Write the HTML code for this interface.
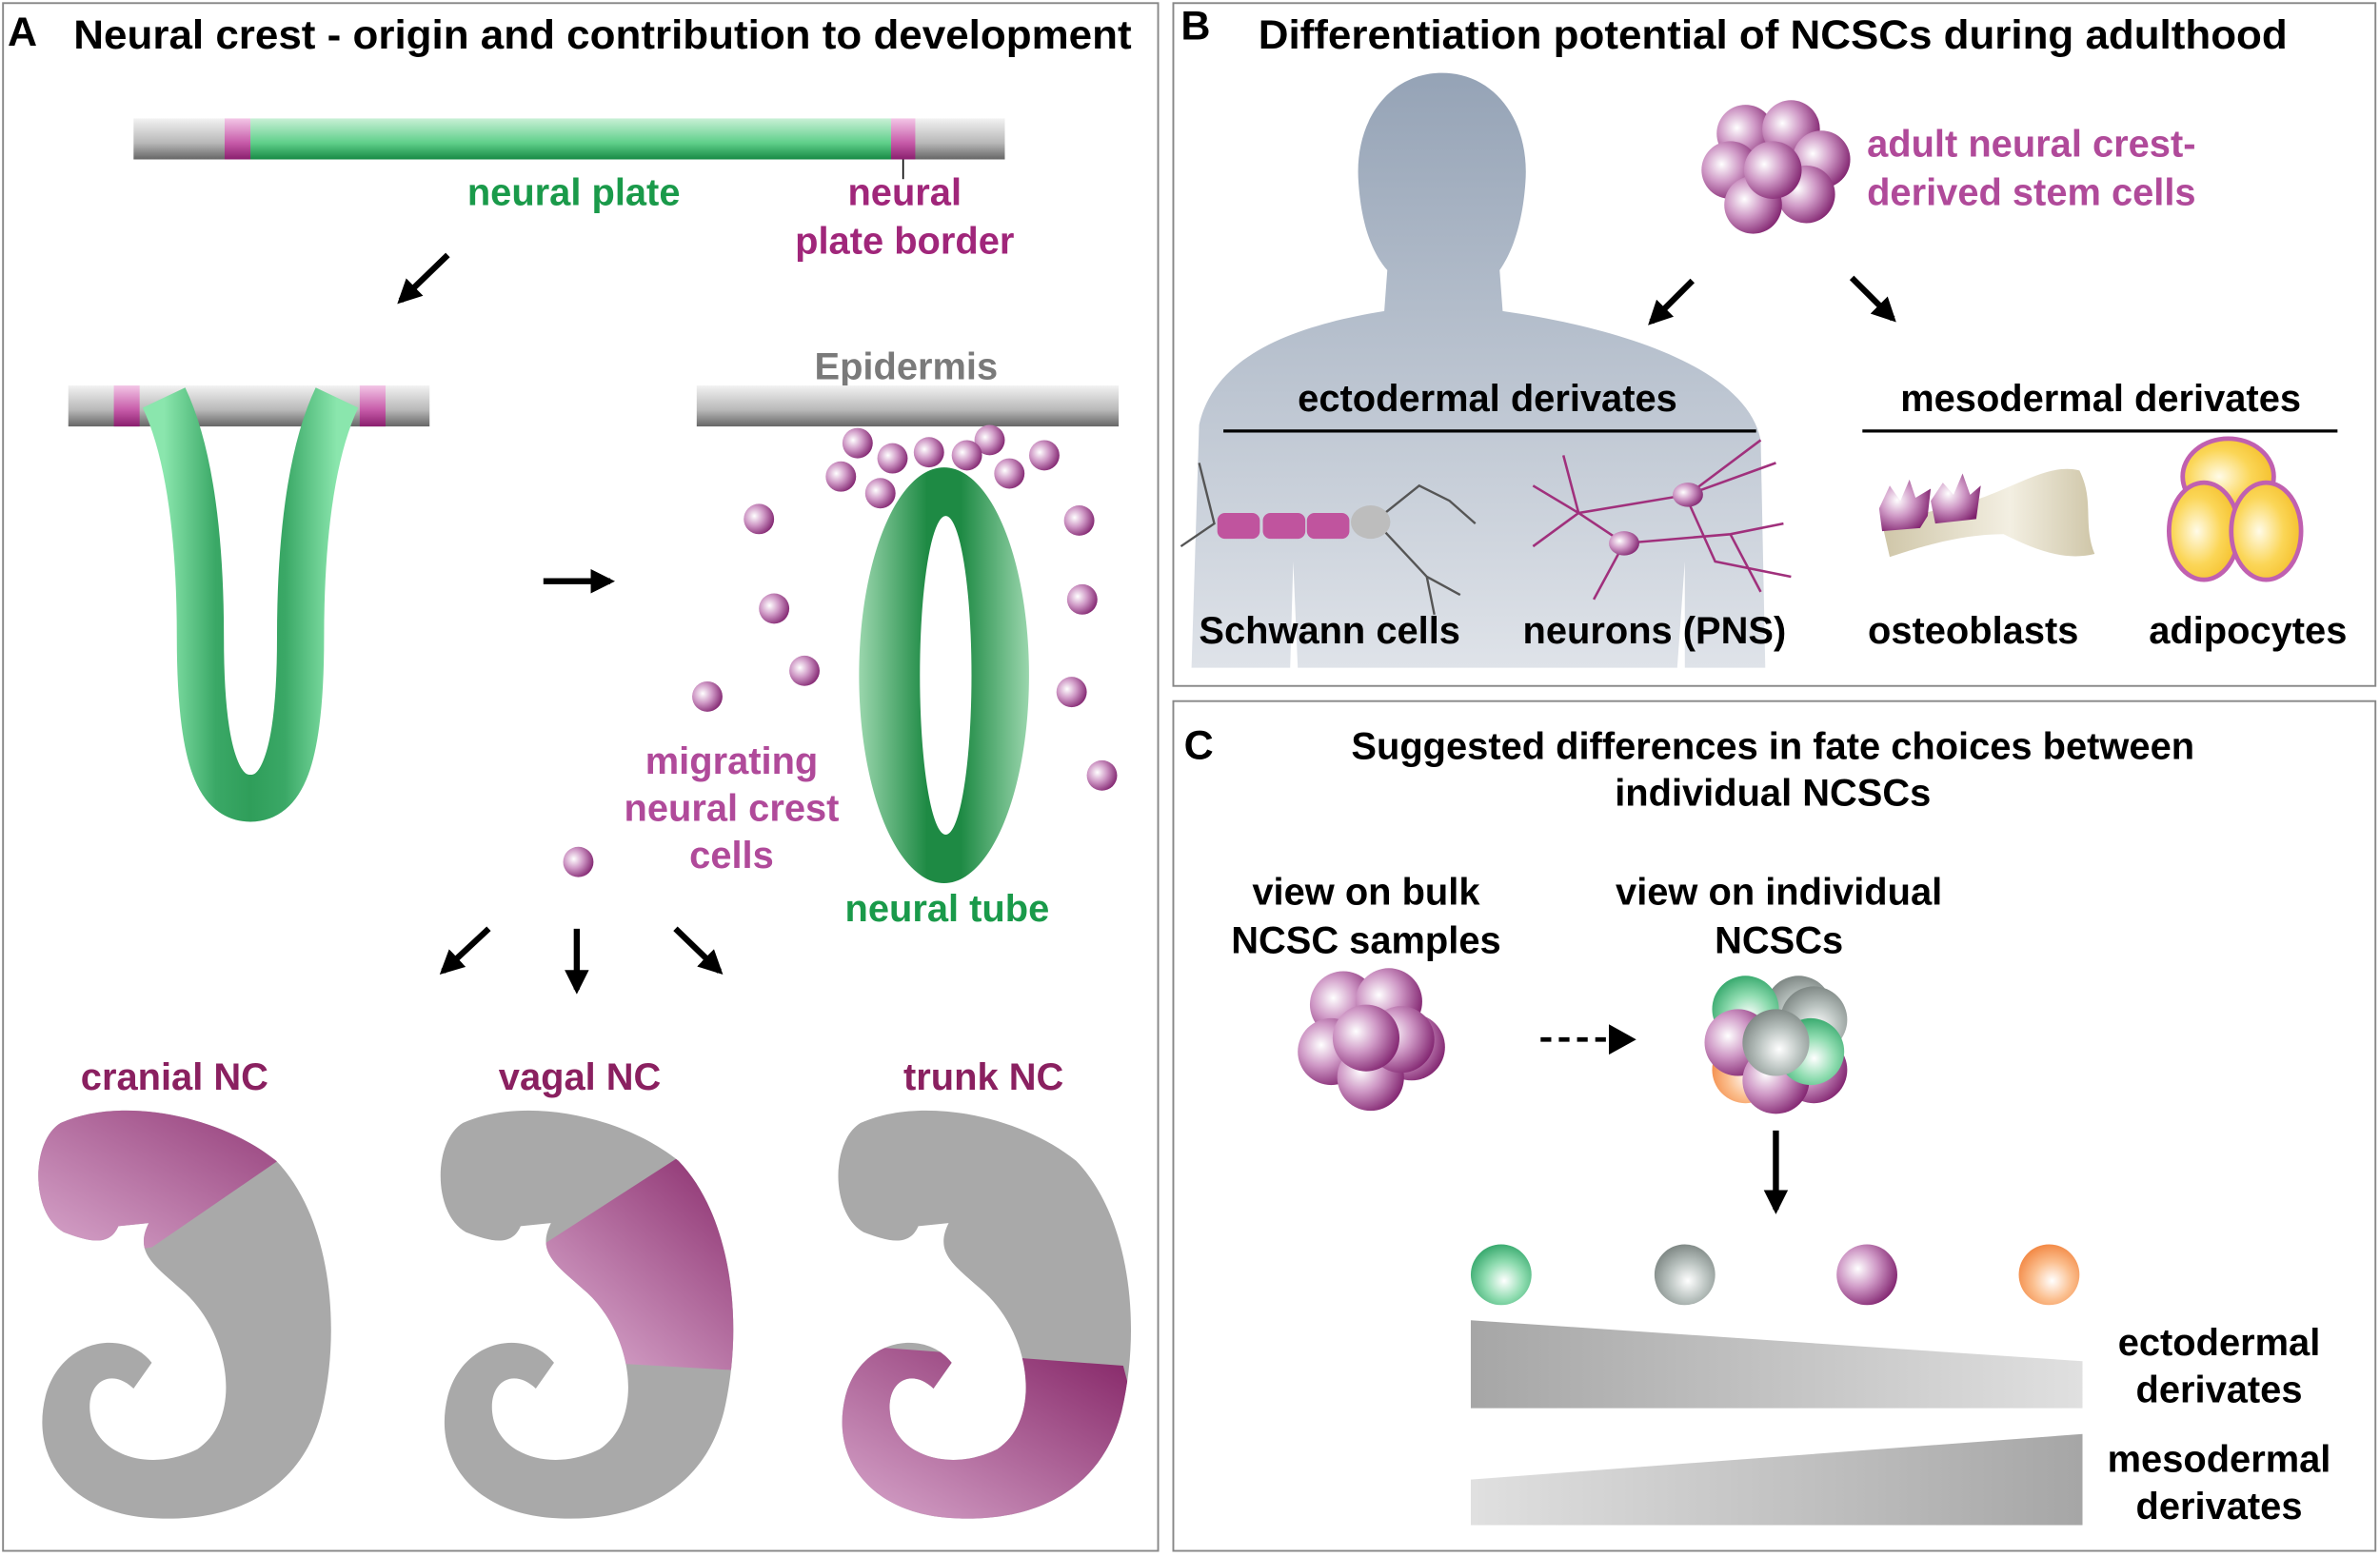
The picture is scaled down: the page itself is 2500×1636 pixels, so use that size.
<!DOCTYPE html>
<html><head><meta charset="utf-8"><style>html,body{margin:0;padding:0;background:#fff}svg{display:block}</style></head><body>
<svg width="2500" height="1636" viewBox="0 0 1568 1026" xmlns="http://www.w3.org/2000/svg" font-family="'Liberation Sans Narrow','Liberation Sans',sans-serif" font-weight="bold">
<defs>
<linearGradient id="bar" x1="0" y1="0" x2="0" y2="1"><stop offset="0" stop-color="#f2f2f2"/><stop offset="0.6" stop-color="#b8b8b8"/><stop offset="1" stop-color="#666"/></linearGradient>
<linearGradient id="gbar" x1="0" y1="0" x2="0" y2="1"><stop offset="0" stop-color="#c8f0d6"/><stop offset="0.6" stop-color="#5fcf8a"/><stop offset="1" stop-color="#178a45"/></linearGradient>
<linearGradient id="pbar" x1="0" y1="0" x2="0" y2="1"><stop offset="0" stop-color="#f3c6e6"/><stop offset="0.6" stop-color="#c65aa8"/><stop offset="1" stop-color="#8a1f6e"/></linearGradient>
<linearGradient id="gU" x1="0" y1="0" x2="1" y2="0"><stop offset="0" stop-color="#8ae6ad"/><stop offset="0.3" stop-color="#3aa866"/><stop offset="0.5" stop-color="#2f9e5a"/><stop offset="0.7" stop-color="#3aa866"/><stop offset="1" stop-color="#8ae6ad"/></linearGradient>
<linearGradient id="gT" x1="0" y1="0" x2="1" y2="0"><stop offset="0" stop-color="#9ad6ad"/><stop offset="0.4" stop-color="#1e8a44"/><stop offset="0.6" stop-color="#1e8a44"/><stop offset="1" stop-color="#9ad6ad"/></linearGradient>
<radialGradient id="sp" cx="0.35" cy="0.4" r="0.7"><stop offset="0" stop-color="#fff"/><stop offset="0.45" stop-color="#cf99c6"/><stop offset="1" stop-color="#7e1f6c"/></radialGradient>
<radialGradient id="sg" cx="0.55" cy="0.6" r="0.7"><stop offset="0" stop-color="#fff"/><stop offset="0.45" stop-color="#8fdcb0"/><stop offset="1" stop-color="#1e9a5a"/></radialGradient>
<radialGradient id="sy" cx="0.55" cy="0.6" r="0.7"><stop offset="0" stop-color="#fff"/><stop offset="0.45" stop-color="#b9c2bf"/><stop offset="1" stop-color="#6d7673"/></radialGradient>
<radialGradient id="so" cx="0.55" cy="0.6" r="0.7"><stop offset="0" stop-color="#fff"/><stop offset="0.45" stop-color="#fbbf8f"/><stop offset="1" stop-color="#f0782e"/></radialGradient>
<radialGradient id="yel" cx="0.4" cy="0.5" r="0.7"><stop offset="0" stop-color="#fffbe8"/><stop offset="0.5" stop-color="#fbd657"/><stop offset="1" stop-color="#f2b81e"/></radialGradient>
<linearGradient id="body" x1="0" y1="0" x2="0" y2="1"><stop offset="0" stop-color="#95a3b6"/><stop offset="1" stop-color="#dfe3e9"/></linearGradient>
<linearGradient id="bone" x1="0" y1="0" x2="1" y2="0"><stop offset="0" stop-color="#cfc6a8"/><stop offset="0.6" stop-color="#f3efe2"/><stop offset="1" stop-color="#cfc6a8"/></linearGradient>
<linearGradient id="pc" x1="1" y1="0" x2="0" y2="1"><stop offset="0" stop-color="#7e1a5e"/><stop offset="1" stop-color="#e0b4d6"/></linearGradient>
<linearGradient id="w1" x1="0" y1="0" x2="1" y2="0"><stop offset="0" stop-color="#a6a6a6"/><stop offset="1" stop-color="#e0e0e0"/></linearGradient>
<linearGradient id="w2" x1="0" y1="0" x2="1" y2="0"><stop offset="0" stop-color="#e0e0e0"/><stop offset="1" stop-color="#a6a6a6"/></linearGradient>
<path id="emb" d="M40 740 C80 722 145 735 182 765 C216 800 226 870 212 930 C198 985 150 1005 95 1000 C45 995 20 960 30 920 C40 882 82 875 100 898 L88 915 C72 900 55 912 60 935 C66 960 100 970 130 955 C160 935 152 880 122 852 C102 834 88 826 98 806 L78 808 C72 822 58 818 42 812 C20 800 20 752 40 740 Z" fill="#a9a9a9"/>
<clipPath id="c1"><use href="#emb"/></clipPath>
<clipPath id="c2"><use href="#emb" x="265"/></clipPath>
<clipPath id="c3"><use href="#emb" x="527"/></clipPath>
<marker id="ah" viewBox="0 0 10 10" refX="8" refY="5" markerWidth="4" markerHeight="4" orient="auto"><path d="M0 0 L10 5 L0 10 Z" fill="#000"/></marker>
</defs>
<rect width="1568" height="1026" fill="#fff"/>
<g fill="none" stroke="#888" stroke-width="1.2">
<rect x="2" y="2" width="761" height="1020"/><rect x="773" y="2" width="792" height="450"/><rect x="773" y="462" width="792" height="560"/></g>

<!-- Panel A -->
<text x="5" y="30" font-size="27" font-family="'Liberation Sans',sans-serif">A</text>
<text x="397" y="32" font-size="27" text-anchor="middle" textLength="697" lengthAdjust="spacingAndGlyphs">Neural crest - origin and contribution to development</text>
<rect x="88" y="78" width="574" height="27" fill="url(#bar)"/>
<rect x="148" y="78" width="17" height="27" fill="url(#pbar)"/><rect x="587" y="78" width="16" height="27" fill="url(#pbar)"/>
<rect x="165" y="78" width="422" height="27" fill="url(#gbar)"/>
<line x1="595" y1="105" x2="595" y2="118" stroke="#000" stroke-width="1"/>
<text x="378" y="135" font-size="25" fill="#1a9a4a" text-anchor="middle">neural plate</text>
<text x="596" y="135" font-size="25" fill="#a0267a" text-anchor="middle">neural</text>
<text x="596" y="167" font-size="25" fill="#a0267a" text-anchor="middle">plate border</text>
<line x1="295" y1="168" x2="264" y2="198" stroke="#000" stroke-width="4" marker-end="url(#ah)"/>
<rect x="45" y="254" width="238" height="27" fill="url(#bar)"/>
<rect x="75" y="254" width="17" height="27" fill="url(#pbar)"/><rect x="237" y="254" width="17" height="27" fill="url(#pbar)"/>
<path d="M108 262 C126 300 132 360 132 420 C132 505 146 526 165 526 C184 526 198 505 198 420 C198 360 204 300 222 262" fill="none" stroke="url(#gU)" stroke-width="31"/>
<line x1="358" y1="383" x2="402" y2="383" stroke="#000" stroke-width="4" marker-end="url(#ah)"/>
<text x="597" y="250" font-size="25" fill="#7a7a7a" text-anchor="middle">Epidermis</text>
<rect x="459" y="254" width="278" height="27" fill="url(#bar)"/>
<path fill-rule="evenodd" fill="url(#gT)" d="M622 308 A56 137 0 1 1 621.9 308 Z M623 340 A17 105 0 1 0 623.1 340 Z"/>
<g fill="url(#sp)">
<circle cx="565" cy="292" r="10"/><circle cx="612" cy="298" r="10"/><circle cx="652" cy="290" r="10"/><circle cx="688" cy="300" r="10"/>
<circle cx="588" cy="302" r="10"/><circle cx="637" cy="300" r="10"/><circle cx="554" cy="314" r="10"/><circle cx="665" cy="312" r="10"/><circle cx="580" cy="325" r="10"/>
<circle cx="500" cy="342" r="10"/><circle cx="711" cy="343" r="10"/><circle cx="510" cy="401" r="10"/><circle cx="713" cy="395" r="10"/>
<circle cx="530" cy="442" r="10"/><circle cx="706" cy="456" r="10"/><circle cx="466" cy="459" r="10"/><circle cx="726" cy="511" r="10"/><circle cx="381" cy="568" r="10"/></g>
<g font-size="25" fill="#b04a9a" text-anchor="middle"><text x="482" y="510">migrating</text><text x="482" y="541">neural crest</text><text x="482" y="572">cells</text></g>
<text x="624" y="607" font-size="25" fill="#1a9a4a" text-anchor="middle">neural tube</text>
<g stroke="#000" stroke-width="4" marker-end="url(#ah)"><line x1="322" y1="612" x2="292" y2="640"/><line x1="380" y1="612" x2="380" y2="652"/><line x1="445" y1="612" x2="474" y2="640"/></g>
<g font-size="25" fill="#8a2060" text-anchor="middle"><text x="115" y="718">cranial NC</text><text x="382" y="718">vagal NC</text><text x="648" y="718">trunk NC</text></g>
<use href="#emb"/><use href="#emb" x="265"/><use href="#emb" x="527"/>
<polygon clip-path="url(#c1)" fill="url(#pc)" points="0,700 240,700 183,765 100,822 0,835"/>
<polygon clip-path="url(#c2)" fill="url(#pc)" points="355,822 448,762 520,758 520,905 380,897 365,860"/>
<polygon clip-path="url(#c3)" fill="url(#pc)" points="540,885 740,900 770,1015 540,1015"/>

<!-- Panel B -->
<text x="778" y="26" font-size="27" font-family="'Liberation Sans',sans-serif">B</text>
<text x="1168" y="32" font-size="27" text-anchor="middle" textLength="678" lengthAdjust="spacingAndGlyphs">Differentiation potential of NCSCs during adulthood</text>
<path fill="url(#body)" d="M950 48 C985 48 1008 80 1005 120 C1003 150 995 168 988 178 L990 205 C1060 215 1150 240 1160 290 L1163 440 L1110 440 L1110 370 L1105 440 L855 440 L852 370 L850 440 L785 440 L790 280 C800 235 850 215 912 205 L914 178 C905 168 897 150 895 120 C892 80 915 48 950 48 Z"/>
<g fill="url(#sp)">
<circle cx="1150" cy="88" r="19"/><circle cx="1180" cy="85" r="19"/><circle cx="1200" cy="105" r="19"/><circle cx="1140" cy="112" r="19"/><circle cx="1190" cy="128" r="19"/><circle cx="1155" cy="135" r="19"/><circle cx="1168" cy="112" r="19"/></g>
<g font-size="25" fill="#b04a9a"><text x="1230" y="103">adult neural crest-</text><text x="1230" y="135">derived stem cells</text></g>
<line x1="1115" y1="185" x2="1088" y2="212" stroke="#000" stroke-width="4" marker-end="url(#ah)"/>
<line x1="1220" y1="183" x2="1247" y2="210" stroke="#000" stroke-width="4" marker-end="url(#ah)"/>
<text x="980" y="271" font-size="25" text-anchor="middle">ectodermal derivates</text>
<line x1="806" y1="284" x2="1157" y2="284" stroke="#000" stroke-width="2"/>
<text x="1384" y="271" font-size="25" text-anchor="middle">mesodermal derivates</text>
<line x1="1227" y1="284" x2="1540" y2="284" stroke="#000" stroke-width="2"/>
<g stroke="#555" stroke-width="1.5" fill="none"><path d="M778 360 L800 345 L790 305"/><path d="M910 340 L935 320 L955 330 L972 345"/><path d="M912 350 L940 380 L962 392"/><path d="M940 380 L945 405"/></g>
<g fill="#c0549e"><rect x="802" y="338" width="28" height="17" rx="5"/><rect x="832" y="338" width="28" height="17" rx="5"/><rect x="861" y="338" width="28" height="17" rx="5"/></g>
<ellipse cx="903" cy="344" rx="13" ry="11" fill="#bdbdbd"/>
<g stroke="#a0307c" stroke-width="1.6" fill="none"><path d="M1010 320 L1040 338 L1112 326 L1160 290"/><path d="M1112 326 L1170 305"/><path d="M1112 330 L1130 370 L1180 380"/><path d="M1040 338 L1070 358 L1140 352 L1175 345"/><path d="M1070 358 L1050 395"/><path d="M1040 338 L1010 360"/><path d="M1030 300 L1040 338"/><path d="M1140 352 L1160 390"/></g>
<ellipse cx="1112" cy="326" rx="10" ry="8" fill="url(#sp)"/><ellipse cx="1070" cy="358" rx="10" ry="8" fill="url(#sp)"/>
<path fill="url(#bone)" d="M1240 345 L1300 330 C1330 320 1350 305 1370 310 C1380 330 1372 345 1380 365 C1360 370 1340 362 1320 352 C1290 352 1260 362 1245 367 Z"/>
<g fill="url(#sp)"><path d="M1238 335 L1245 320 L1252 330 L1258 316 L1262 328 L1272 322 L1270 340 L1265 348 L1240 350 Z"/><path d="M1272 330 L1280 318 L1287 326 L1293 312 L1298 326 L1305 320 L1302 342 L1275 345 Z"/></g>
<g stroke="#c060b0" stroke-width="3" fill="url(#yel)"><ellipse cx="1468" cy="314" rx="30" ry="25"/><ellipse cx="1452" cy="350" rx="23" ry="32"/><ellipse cx="1493" cy="350" rx="23" ry="32"/></g>
<g font-size="25" text-anchor="middle"><text x="876" y="424">Schwann cells</text><text x="1090" y="424">neurons (PNS)</text><text x="1300" y="424">osteoblasts</text><text x="1481" y="424">adipocytes</text></g>

<!-- Panel C -->
<text x="780" y="500" font-size="27" font-family="'Liberation Sans',sans-serif">C</text>
<g font-size="25" text-anchor="middle"><text x="1168" y="500">Suggested differences in fate choices between</text><text x="1168" y="531">individual NCSCs</text>
<text x="900" y="596">view on bulk</text><text x="900" y="628">NCSC samples</text>
<text x="1172" y="596">view on individual</text><text x="1172" y="628">NCSCs</text></g>
<g fill="url(#sp)">
<circle cx="885" cy="662" r="22"/><circle cx="915" cy="660" r="22"/><circle cx="930" cy="690" r="22"/><circle cx="877" cy="693" r="22"/><circle cx="903" cy="710" r="22"/><circle cx="923" cy="685" r="22"/><circle cx="900" cy="684" r="22"/></g>
<line x1="1015" y1="685" x2="1060" y2="685" stroke="#000" stroke-width="3" stroke-dasharray="7,5"/>
<path d="M1060 675 L1078 685 L1060 695 Z"/>
<circle cx="1185" cy="665" r="22" fill="url(#sy)"/><circle cx="1150" cy="665" r="22" fill="url(#sg)"/>
<circle cx="1150" cy="705" r="22" fill="url(#so)"/><circle cx="1195" cy="705" r="22" fill="url(#sp)"/>
<circle cx="1195" cy="672" r="22" fill="url(#sy)"/><circle cx="1145" cy="687" r="22" fill="url(#sp)"/>
<circle cx="1170" cy="712" r="22" fill="url(#sp)"/><circle cx="1193" cy="693" r="22" fill="url(#sg)"/><circle cx="1170" cy="687" r="22" fill="url(#sy)"/>
<line x1="1170" y1="745" x2="1170" y2="797" stroke="#000" stroke-width="4" marker-end="url(#ah)"/>
<circle cx="989" cy="840" r="20" fill="url(#sg)"/><circle cx="1110" cy="840" r="20" fill="url(#sy)"/><circle cx="1230" cy="840" r="20" fill="url(#sp)"/><circle cx="1350" cy="840" r="20" fill="url(#so)"/>
<polygon points="969,870 1372,897 1372,928 969,928" fill="url(#w1)"/>
<polygon points="969,975 1372,945 1372,1005 969,1005" fill="url(#w2)"/>
<g font-size="25" text-anchor="middle"><text x="1462" y="893">ectodermal</text><text x="1462" y="924">derivates</text><text x="1462" y="970">mesodermal</text><text x="1462" y="1001">derivates</text></g>
</svg>
</body></html>
